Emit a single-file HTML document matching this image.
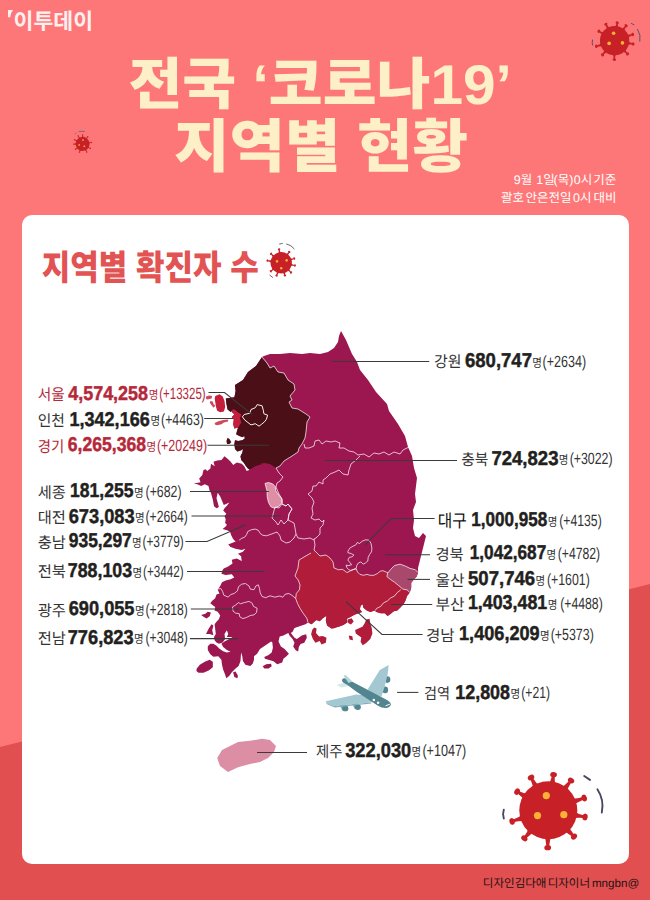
<!DOCTYPE html>
<html lang="ko">
<head>
<meta charset="utf-8">
<title>전국 코로나19 지역별 현황</title>
<style>
html,body{margin:0;padding:0}
body{width:650px;height:900px;overflow:hidden;position:relative;background:#fe7778;font-family:"Liberation Sans","Noto Sans CJK KR",sans-serif}
.bg-dark{position:absolute;left:0;top:0;width:650px;height:900px;background:#e24f50;clip-path:polygon(0 747px,650px 584px,650px 900px,0 900px)}
.card{position:absolute;left:22px;top:215px;width:607px;height:649px;background:#fff;border-radius:10px}
svg{position:absolute;left:0;top:0}
svg text{font-family:"Liberation Sans","Noto Sans CJK KR",sans-serif;letter-spacing:0;text-rendering:geometricPrecision;white-space:pre}
</style>
</head>
<body>
<div class="bg-dark"></div>
<div class="card"></div>
<svg width="650" height="900" viewBox="0 0 650 900">
<g id="title">
<text x="128.4" y="103.5" textLength="383.5" lengthAdjust="spacingAndGlyphs" font-size="56" font-weight="900" fill="#fdefc6">전국 ‘코로나19’</text>
<text x="174" y="167" textLength="294" lengthAdjust="spacingAndGlyphs" font-size="58" font-weight="900" fill="#fdefc6">지역별 현황</text>
</g>
<g id="logo">
<path fill="#fff0f0" d="M8 10H13.1Q10.6 12.6 10.2 17.2H8Z"/>
<text x="13.5" y="28.5" textLength="79.6" lengthAdjust="spacingAndGlyphs" font-size="22" font-weight="bold" fill="#fff0f0">이투데이</text>
</g>
<g id="date">
<text y="184.3" font-size="12.5" fill="#ffffff"><tspan x="513.7">9월</tspan><tspan x="536.2">1일</tspan><tspan x="553.5">(목)</tspan><tspan x="573.8">0시</tspan><tspan x="593.2">기준</tspan></text>
<text y="202.3" font-size="12.5" fill="#ffffff"><tspan x="501">괄호</tspan><tspan x="525.5">안은</tspan><tspan x="548.4">전일</tspan><tspan x="573">0시</tspan><tspan x="593.4">대비</tspan></text>
</g>
<text x="41.8" y="280" textLength="217" lengthAdjust="spacingAndGlyphs" font-size="35" font-weight="900" fill="#e25353">지역별 확진자 수</text>
<g id="credit">
<text y="887.2" font-size="11.5" fill="#1e1212"><tspan x="482.8">디자인</tspan><tspan x="514.7">김다애</tspan><tspan x="547.7">디자이너</tspan></text>
<text x="591.93" y="887.20" textLength="47.27" lengthAdjust="spacingAndGlyphs" font-size="11.5" font-weight="normal" fill="#1e1212">mngbn@</text>
</g>
<g id="map" stroke-linejoin="round">
<path fill="#9c1650" d="M262 357 L264 356 L270 354 L280 354 L290 353 L302 354 L310 353 L320 354 L328 352 L334 348 L338 342 L339 336 L341 331 L346 340 L352 354 L357 362 L360 370 L368 380 L376 392 L387 404 L389 411 L398 424 L405 436 L408 447 L412 456 L414 468 L417 478 L416 486 L415 494 L416 502 L413 510 L414 520 L413 528 L415 536 L419 538 L423 533 L426 536 L424 544 L422 552 L420 560 L418 568 L418.1 572.5 L416.7 576.6 L413.9 579.4 L411.2 582.8 L411.2 587.7 L409.8 592.5 L407 596 L405.6 600.2 L403.5 604.3 L400.1 607.8 L397.3 610.5 L393.8 611.2 L390.4 614 L387.6 616.1 L384.8 613.3 L380.7 613.3 L376.5 611.9 L374.5 610.5 L370.3 611.9 L366.8 610.5 L363.4 607.8 L362.7 604.3 L360.6 605.7 L359.9 609.2 L362 611.9 L358.5 613.3 L354.4 614.7 L350.9 616.8 L346.8 618.8 L347.5 622.3 L343.3 625.1 L339.2 626.5 L335 627.8 L335.1 628 L331.4 628.6 L327.1 625.5 L325.8 620.6 L326.5 615.7 L322.8 618.2 L319.7 621.2 L316.6 620 L314.2 621.8 L311.7 624.3 L308 622.5 L305.5 624.3 L301.8 625.5 L298.2 626.8 L294.5 628 L292.6 631.7 L290.8 632.9 L294.5 637.8 L296.9 639.1 L301.8 635.4 L306.2 634.2 L306.8 637.8 L304.3 642.8 L300.6 644 L298.8 647.1 L298.2 651.4 L295.7 650.2 L293.2 646.5 L294.5 642.8 L292.6 639.1 L289.5 635.4 L288.3 632.9 L283.4 635.4 L279.7 636.6 L278.5 641.5 L280.9 646.5 L284.6 648.9 L288.9 653.8 L286.5 656.3 L283.4 658.8 L282.2 662.5 L277.2 664.3 L273.5 661.2 L269.2 660 L264.9 658.8 L264.3 656.9 L268.6 655.1 L271.7 652.6 L272.9 647.7 L272.3 642.2 L271.1 641.5 L267.4 644 L263.7 646.5 L260 648.9 L257.1 653.7 L254 656.2 L254 659.8 L252.8 663.5 L250.3 666 L245.4 664.8 L242.9 661.1 L242.3 656.2 L241.1 652.5 L240.5 661.1 L238.6 666 L235.5 668.5 L231.8 672.2 L229.4 675.8 L226.3 678.3 L225.1 674.6 L223.2 669.7 L222 664.8 L221.4 659.8 L218.3 656.2 L213.4 656.8 L210.3 654.3 L207.8 650 L207.8 646.3 L210.3 643.8 L213.4 643.8 L216.5 645.7 L219.5 648.8 L223.2 651.2 L226.9 652.5 L230.6 651.8 L226.9 650 L223.2 646.9 L221.4 643.8 L224.5 641.4 L229.4 638.9 L232.5 637.1 L226.9 637.1 L228.2 634 L226.9 630.3 L224.5 634 L225.1 638.9 L222.6 642.6 L218.9 643.8 L216.5 642.6 L214.6 640.2 L214 637.1 L215.8 634 L215.2 629.1 L214.6 624.2 L216.5 621.7 L218.9 619.2 L220.2 615.5 L217.7 611.8 L214.6 610.6 L215.2 606.9 L213.4 605.7 L210.3 603.2 L212.2 600.8 L215.2 598.3 L216.5 594.6 L219.5 593.4 L217.7 589.7 L220.2 586 L222 582.3 L225.7 580.5 L230.6 579.2 L234.3 577.4 L231.8 574.3 L225.7 574.9 L221.4 573.7 L222.6 570 L223.8 568.5 L228.2 566.6 L232.5 563.5 L231.8 559.8 L236.8 558.6 L241.7 561.1 L241.1 556.2 L238 553.7 L242.9 551.8 L245.4 548.8 L241.7 550 L235.5 548.8 L230.6 546.9 L228.2 544.5 L233.1 542.6 L239.2 540.2 L235.5 541.4 L233.1 538.9 L231.2 535.2 L230 531.5 L226.9 530.3 L222.6 529.1 L225.7 526.6 L226.9 524.8 L225.1 522.9 L225.7 519.2 L224.5 516.2 L226.3 513.7 L223.2 510.6 L224.5 508.2 L226.9 505.7 L229.4 502.6 L223.8 505.1 L222 500.8 L220.2 496.5 L217.7 492.8 L216.5 498.3 L218.9 506.9 L216.5 508.2 L214 506.3 L212.8 499.5 L210.9 492.8 L209.7 490.9 L208.5 486 L204.8 484.2 L201.1 486 L197.4 484.2 L193.7 483.5 L200.5 482.3 L199.2 478.6 L202.3 474.9 L203.5 470 L205.5 469.2 L207.3 471.1 L210.4 468.6 L211 463.7 L214.7 466.2 L213.5 461.8 L217.2 460.6 L221.5 460 L224.5 456.3 L227.6 458.8 L230.7 461.8 L233.2 464.9 L236.8 462.5 L241.8 463.7 L244.2 466.2 L246.7 471.1 L249.8 469.8 L247.9 468.6 L246.1 466.2 L243.6 462.5 L241.2 460 L240.5 456.3 L242.4 452.6 L243 448.9 L241.2 450.2 L237.5 451.4 L235 448.9 L234.4 444 L235 440.3 L238.1 440.9 L242.4 440.3 L244.8 438.5 L244.2 435.4 L243 437.2 L239.3 436 L236.2 434.2 L236.8 431.7 L238.1 427.4 L234.4 428.6 L233.2 424.3 L233.8 419.4 L231.9 416.9 L234.4 414.5 L231.9 412 L232.5 409.5 L230.7 412 L227.6 409.5 L226.4 403.4 L225.8 398.5 L234.4 397.2 L235.6 391.1 L235 384.9 L243 380 L248 372 L256 366Z"/>
<path fill="#9c1650" d="M201.1 614.9 L205.4 613.7 L207.8 611.8 L210.9 612.5 L209.7 616.2 L206.6 618.6 L203.5 616.8Z"/>
<path fill="#9c1650" d="M208.5 629.1 L211.5 624.2 L213.4 625.4 L212.2 630.3 L213.4 635.2 L209.7 634 L206 634Z"/>
<path fill="#9c1650" d="M196.8 668.5 L199.8 664.8 L204.8 661.7 L209.7 659.8 L212.8 661.7 L212.8 667.2 L209.1 670.3 L203.5 672.8 L198.6 672.8 L196.4 670.9Z"/>
<path fill="#9c1650" d="M233.1 672.2 L235.5 671.5 L238 675.8 L237.4 678.3 L234.3 677.1Z"/>
<path fill="#9c1650" d="M262.7 666.2 L266.2 664.3 L271.1 663.7 L271.7 666.2 L268.6 668.4 L264.3 668.6Z"/>
<path fill="#b01c39" d="M314 550 L317 553 L320 556 L326 555 L330 558 L333 562 L334 568 L338.7 569.8 L342.4 569.3 L345.2 571.2 L347 572.6 L350.7 570.7 L353.9 569.3 L356.2 568.9 L357.6 572.1 L359.9 574.4 L363.6 575.3 L366.9 574.4 L370.1 575.3 L373.8 575.3 L377.5 573.5 L380.2 571.2 L383 570.7 L386.2 572.1 L388.1 573 L386.9 576.6 L390.4 579.4 L394.5 582.2 L398.7 585.6 L402.8 589.1 L407 589.8 L409.8 592.5 L407 596 L405.6 600.2 L403.5 604.3 L400.1 607.8 L397.3 610.5 L393.8 611.2 L390.4 614 L387.6 616.1 L384.8 613.3 L380.7 613.3 L376.5 611.9 L374.5 610.5 L370.3 611.9 L366.8 610.5 L363.4 607.8 L362.7 604.3 L360.6 605.7 L359.9 609.2 L362 611.9 L358.5 613.3 L354.4 614.7 L350.9 616.8 L346.8 618.8 L347.5 622.3 L343.3 625.1 L339.2 626.5 L335 627.8 L335.1 628 L331.4 628.6 L327.1 625.5 L325.8 620.6 L326.5 615.7 L322.8 618.2 L319.7 621.2 L316.6 620 L314.2 621.8 L311.7 624.3 L308 622.5 L308 622.5 L306.8 618.2 L303.1 613.2 L300 608.3 L297.5 603.4 L295.7 598.5 L296.3 593.5 L299.4 589.8 L300 584.9 L298.2 580 L295 576 L298 568 L299 560 L304 557 L311 553Z"/>
<path fill="#b01c39" d="M314.2 627.4 L316.6 628.6 L316 632.9 L319.1 636.6 L322.8 636 L326.5 637.8 L325.8 642.8 L321.5 644.6 L319.7 640.9 L315.4 642.8 L312.9 639.1 L311.1 634.2 L312.3 629.8Z"/>
<path fill="#b01c39" d="M366.2 619.5 L369.6 618.8 L370.3 623.7 L371.7 627.8 L372.4 633.4 L370.3 638.9 L366.2 643.1 L362.7 645.2 L360.6 641.7 L361.3 637.5 L358.5 635.5 L355.8 633.4 L355.1 629.9 L358.5 628.5 L362.7 626.5 L364.8 623Z"/>
<path fill="#b01c39" d="M347.5 619.5 L351.6 618.2 L353.7 621.6 L350.9 624.4 L348.2 623Z"/>
<path fill="#b01c39" d="M348.8 635.5 L352.3 636.2 L353 640.3 L349.5 639.6Z"/>
<path fill="#a9476c" d="M387.6 573.2 L390.4 569.7 L394.5 565.5 L400.1 564.2 L405.6 566.2 L409.8 568.3 L415.3 569.7 L418.1 572.5 L416.7 576.6 L413.9 579.4 L411.2 582.8 L411.2 587.7 L409.8 592.5 L407 589.8 L402.8 589.1 L398.7 585.6 L394.5 582.2 L390.4 579.4 L386.9 576.6Z"/>
<path fill="#4b0f17" d="M262 357 L267 363 L270 368 L274 366 L278 372 L284 373 L288 380 L294 384 L295 390 L290 396 L292 400 L289 402 L292 408 L298 409 L306 414 L310 417 L307 422 L306 432 L305 438 L302 444 L299 448 L298 452 L292 456 L284 461 L280 466 L276 468 L270 464 L264 463 L258 464.4 L263.9 463.7 L259 464.9 L254.1 466.8 L249.8 469.8 L247.9 468.6 L246.1 466.2 L243.6 462.5 L241.2 460 L240.5 456.3 L242.4 452.6 L243 448.9 L241.2 450.2 L237.5 451.4 L235 448.9 L234.4 444 L235 440.3 L238.1 440.9 L242.4 440.3 L244.8 438.5 L244.2 435.4 L243 437.2 L239.3 436 L236.2 434.2 L236.8 431.7 L238.1 427.4 L241.2 422.5 L239.9 418.2 L241.2 414.5 L237.5 412.2 L234.4 409.5 L230.7 412 L227.6 409.5 L226.4 403.4 L225.8 398.5 L234.4 397.2 L235.6 391.1 L235 384.9 L243 380 L248 372 L256 366Z"/>
<path fill="#4b0f17" d="M227.6 437.8 L229.5 439.1 L231.3 442.2 L229.5 444 L227 444 L226.4 440.9Z"/>
<path fill="#c31e3c" d="M215.3 396 L219.6 394.2 L222.7 396.6 L224.5 400.9 L225.2 407.1 L223.9 411.4 L220.2 412.2 L217.2 410.8 L215.9 406.5 L215.3 402.2 L214.7 398.5Z"/>
<path fill="#c31e3c" d="M234.4 428.6 L233.2 424.3 L233.8 419.4 L231.9 416.9 L234.4 414.5 L231.9 412 L232.5 409.5 L234.4 409.5 L237.5 412.2 L241.2 414.5 L239.9 418.2 L241.2 422.5 L238.1 427.4Z"/>
<path fill="#cf4a5c" d="M206.1 396.6 L209.2 395.4 L212.2 396 L211.6 398.5 L207.3 399.4 L205.8 398.5Z"/>
<path fill="#cf4a5c" d="M210.4 400.9 L212.8 401.5 L213.5 404 L215.3 405.8 L213.5 407.7 L211 404.6 L209.8 402.8Z"/>
<path fill="#cf4a5c" d="M214.7 423.1 L218.4 421.2 L223.3 420 L228.2 419.6 L228 421.6 L223.9 422.5 L221.5 424.3 L217.2 425.3 L214.9 424.6Z"/>
<path fill="#de8fa5" d="M265 483.4 L268.5 482.5 L272.8 484 L275.2 486.5 L275.8 490.8 L278.9 495.1 L281.8 498.8 L282.2 502.5 L278.9 506.2 L274.6 508.2 L270.9 506.8 L268.5 502.5 L267.2 496.9 L267 490.8 L265.8 486.5Z"/>
<path fill="#db8ea4" d="M217.2 758 L222 750 L230 746 L238 742 L250 740.8 L262 738.8 L270 740 L276 746 L274 752 L268 758 L260 762 L250 764 L238 767.2 L228 772 L220 766Z"/>
<g fill="none" stroke="#fff" stroke-width="0.8" stroke-opacity="0.9">
<path d="M262 357 L267 363 L270 368 L274 366 L278 372 L284 373 L288 380 L294 384 L295 390 L290 396 L292 400 L289 402 L292 408 L298 409 L306 414 L310 417 L307 422 L306 432 L305 438 L302 444 L299 448 L298 452 L292 456 L284 461 L280 466 L276 468"/>
<path d="M304 444 L305 448 L309 448 L314 446 L315 441 L319 440 L322 444 L326 441 L331 442 L335 441 L340 443 L339 448 L344 448 L349 451 L354 452 L358 455 L364 454 L369 457 L374 453 L379 454 L384 452 L389 455 L394 452 L400 454 L403 450 L409 447"/>
<path d="M360 456 L356 460 L351 464 L349 470 L348 475 L343 474 L339 470 L335 472 L330 474 L326 478 L323 480 L323 484 L319 482 L316 486 L313 486 L312 491 L308 494 L312 498 L314 502 L312 508 L313 514 L311 518 L315 520 L319 519 L322 522 L324 520 L323 525 L320 528 L320 534 L316 538 L314 539"/>
<path d="M276 468 L279 473 L283 477 L280 481 L277 483 L276 487 L279 494 L282 499 L282 504 L286 506 L288 504 L292 509 L289 514 L288 520 L290 521 L294 523 L295 528 L296 534 L298 538 L304 539 L310 538 L314 540"/>
<path d="M314 539 L315 545 L314 550"/>
<path d="M239.2 540.2 L241.7 538.3 L244.8 537.1 L246.6 534.6 L247.8 531.5 L251.5 529.7 L255.2 529.1 L258.3 530.3 L260.2 533.4 L262.6 535.2 L266.3 535.8 L270 534.6 L277 532 L280 536 L281 540 L286 543 L290 542 L294 538 L296 534"/>
<path d="M218.3 589.1 L220.8 588.5 L222.6 591.5 L223.8 595.2 L228.2 597.1 L230.6 594.6 L234.3 593.4 L237.4 590.9 L238.6 586.6 L241.7 584.2 L245.4 583.5 L249.1 586 L250.3 589.1 L254 589.7 L255.8 586 L258.3 584.8 L259.5 588.5 L260.2 592.8 L262 596.5 L265.7 597.7 L270 595.8 L274.8 597.2 L279.7 596 L282.8 597.2 L285.2 594.2 L288.9 593.5 L292 595.4 L295.7 598.5"/>
<path d="M311 553 L304 557 L299 560 L298 568 L295 576 L298.2 580 L300 584.9 L299.4 589.8 L296.3 593.5 L295.7 598.5 L297.5 603.4 L300 608.3 L303.1 613.2 L306.8 618.2 L308 622.5"/>
<path d="M314 550 L317 553 L320 556 L326 555 L330 558 L333 562 L334 568 L338.7 569.8 L342.4 569.3 L345.2 571.2 L347 572.6 L350.7 570.7 L353.9 569.3 L356.2 568.9 L357.6 572.1 L359.9 574.4 L363.6 575.3 L366.9 574.4 L370.1 575.3 L373.8 575.3 L377.5 573.5 L380.2 571.2 L383 570.7 L386.2 572.1 L388.1 573"/>
<path d="M400.8 589.8 L397.3 592.5 L394.5 596 L390.4 598.1 L387.6 600.8 L383.5 602.9 L380.7 606.4 L376.5 608.5 L375.2 610.5"/>
<path d="M265 483.4 L268.5 482.5 L272.8 484 L275.2 486.5 L275.8 490.8 L278.9 495.1 L281.8 498.8 L282.2 502.5 L278.9 506.2 L274.6 508.2 L270.9 506.8 L268.5 502.5 L267.2 496.9 L267 490.8 L265.8 486.5Z"/>
<path d="M275 507 L272 518 L276 522 L278 525 L281 520 L284 524 L288 520 L289 514 L292 509 L288 504 L286 506 L282 504 L279 508Z"/>
<path d="M365.5 539.8 L369.2 540.2 L371 543.5 L371.9 548.1 L371.5 551.8 L369.6 554.5 L368.2 557.3 L367.8 561 L365.5 562.9 L363.2 564.2 L360.9 561.9 L358.5 562.9 L356.7 565.6 L356.2 568.4 L353.9 569.3 L350.7 570.4 L348.9 569.8 L347 567.9 L346.1 565.2 L348.9 565.6 L351.6 564.7 L350.2 562.9 L347.9 560.1 L349.3 557.3 L352.1 556.9 L353.9 555 L351.2 553.6 L347.9 552.7 L347.9 551.3 L349.8 548.1 L353 546.2 L355.8 544.9 L357.2 542.5 L359.5 543.5 L362.2 541.2Z"/>
<path d="M232.5 606.9 L235.5 605.1 L238.6 602.6 L240.5 603.8 L244.2 602.6 L249.1 601.4 L252.2 603.2 L253.4 606.3 L257.1 608.2 L256.5 612.5 L254 614.9 L250.3 615.5 L246.6 617.4 L242.9 618.6 L239.8 616.8 L239.2 613.7 L235.5 613.1 L233.1 611.2Z"/>
<path d="M386.9 576.6 L387.6 573.2 L390.4 569.7 L394.5 565.5 L400.1 564.2 L405.6 566.2 L409.8 568.3 L415.3 569.7 L418.1 572.5"/>
<path d="M386.9 576.6 L390.4 579.4 L394.5 582.2 L398.7 585.6 L402.8 589.1 L407 589.8 L409.8 592.5"/>
<path stroke-width="0.95" stroke-opacity="1" d="M242.4 416.9 L244.2 414.5 L249.8 413.2 L251 409.5 L255.3 407.7 L257.2 404.6 L262.1 405.8 L263.3 410.2 L263.9 413.8 L267.6 415.1 L266.4 419.4 L264.5 421.8 L261.5 424.3 L259 426.2 L255.3 423.7 L251 424.9 L247.9 422.5 L244.8 420Z"/>
</g></g>
<g id="leaders" fill="none" stroke="#3a3a3a" stroke-width="1.05">
<path d="M208.5 392.5 L224.5 392.5 L252 414.3"/>
<path d="M204.2 418.5 L233.2 418.5"/>
<path d="M207.5 445.3 L268.8 445.3"/>
<path d="M190 491.5 L268.8 491.5"/>
<path d="M191.5 516 L281 516"/>
<path d="M185.4 541.5 L207 541.5 L246 524.8"/>
<path d="M187 571.5 L264.5 571.5"/>
<path d="M190.8 609 L238.6 609"/>
<path d="M190 638.6 L237.4 638.6"/>
<path d="M332 361.4 L429.2 361.4"/>
<path d="M325 460.4 L457 460.4"/>
<path d="M365 545 L391 518.5 L434.6 518.5"/>
<path d="M385 554.8 L430 554.8"/>
<path d="M407.5 579.4 L430 579.4"/>
<path d="M391 604.4 L432.2 604.4"/>
<path d="M346 601.7 L382 634.4 L422.6 634.4"/>
<path d="M397.1 692.4 L418.4 692.4"/>
<path d="M257 752.4 L307 752.4"/>
</g>
<g id="labels" font-family="'Liberation Sans', 'Noto Sans CJK KR', sans-serif">
<g>
<text x="37.7" y="400" textLength="27.1" lengthAdjust="spacingAndGlyphs" font-size="15.5" fill="#b5283a">서울</text>
<text x="68.23" y="399.50" textLength="79.82" lengthAdjust="spacingAndGlyphs" font-size="20" font-weight="bold" fill="#b5283a" stroke="#b5283a" stroke-width="0.45">4,574,258</text>
<text x="148.8" y="399.1" textLength="9.6" lengthAdjust="spacingAndGlyphs" font-size="12" fill="#b5283a">명</text>
<text x="159.29" y="399.10" textLength="46.33" lengthAdjust="spacingAndGlyphs" font-size="16.3" font-weight="normal" fill="#b5283a">(+13325)</text>
</g>
<g>
<text x="37.7" y="426" textLength="27.1" lengthAdjust="spacingAndGlyphs" font-size="15.5" fill="#333333">인천</text>
<text x="69.46" y="425.60" textLength="80.29" lengthAdjust="spacingAndGlyphs" font-size="20" font-weight="bold" fill="#231f20" stroke="#231f20" stroke-width="0.45">1,342,166</text>
<text x="150.4" y="425.2" textLength="9.6" lengthAdjust="spacingAndGlyphs" font-size="12" fill="#333333">명</text>
<text x="161.04" y="425.20" textLength="42.83" lengthAdjust="spacingAndGlyphs" font-size="16.3" font-weight="normal" fill="#333333">(+4463)</text>
</g>
<g>
<text x="37.7" y="452" textLength="26.5" lengthAdjust="spacingAndGlyphs" font-size="15.5" fill="#b5283a">경기</text>
<text x="67.86" y="451.40" textLength="78.08" lengthAdjust="spacingAndGlyphs" font-size="20" font-weight="bold" fill="#b5283a" stroke="#b5283a" stroke-width="0.45">6,265,368</text>
<text x="146.5" y="451" textLength="9.6" lengthAdjust="spacingAndGlyphs" font-size="12" fill="#b5283a">명</text>
<text x="156.93" y="451.00" textLength="50.14" lengthAdjust="spacingAndGlyphs" font-size="16.3" font-weight="normal" fill="#b5283a">(+20249)</text>
</g>
<g>
<text x="37.7" y="498" textLength="28.1" lengthAdjust="spacingAndGlyphs" font-size="15.5" fill="#333333">세종</text>
<text x="70.10" y="497.40" textLength="63.39" lengthAdjust="spacingAndGlyphs" font-size="20" font-weight="bold" fill="#231f20" stroke="#231f20" stroke-width="0.45">181,255</text>
<text x="134" y="497" textLength="9.6" lengthAdjust="spacingAndGlyphs" font-size="12" fill="#333333">명</text>
<text x="145.53" y="497.00" textLength="36.03" lengthAdjust="spacingAndGlyphs" font-size="16.3" font-weight="normal" fill="#333333">(+682)</text>
</g>
<g>
<text x="37.7" y="523.2" textLength="28.1" lengthAdjust="spacingAndGlyphs" font-size="15.5" fill="#333333">대전</text>
<text x="68.73" y="522.70" textLength="65.93" lengthAdjust="spacingAndGlyphs" font-size="20" font-weight="bold" fill="#231f20" stroke="#231f20" stroke-width="0.45">673,083</text>
<text x="135" y="522.3" textLength="9.6" lengthAdjust="spacingAndGlyphs" font-size="12" fill="#333333">명</text>
<text x="145.55" y="522.30" textLength="42.21" lengthAdjust="spacingAndGlyphs" font-size="16.3" font-weight="normal" fill="#333333">(+2664)</text>
</g>
<g>
<text x="37.7" y="547.8" textLength="28.1" lengthAdjust="spacingAndGlyphs" font-size="15.5" fill="#333333">충남</text>
<text x="68.80" y="547.30" textLength="62.97" lengthAdjust="spacingAndGlyphs" font-size="20" font-weight="bold" fill="#231f20" stroke="#231f20" stroke-width="0.45">935,297</text>
<text x="132" y="546.9" textLength="9.6" lengthAdjust="spacingAndGlyphs" font-size="12" fill="#333333">명</text>
<text x="142.46" y="546.90" textLength="41.27" lengthAdjust="spacingAndGlyphs" font-size="16.3" font-weight="normal" fill="#333333">(+3779)</text>
</g>
<g>
<text x="37.7" y="577.4" textLength="28.2" lengthAdjust="spacingAndGlyphs" font-size="15.5" fill="#333333">전북</text>
<text x="67.73" y="576.90" textLength="64.41" lengthAdjust="spacingAndGlyphs" font-size="20" font-weight="bold" fill="#231f20" stroke="#231f20" stroke-width="0.45">788,103</text>
<text x="132.5" y="576.5" textLength="9.6" lengthAdjust="spacingAndGlyphs" font-size="12" fill="#333333">명</text>
<text x="143.07" y="576.50" textLength="40.65" lengthAdjust="spacingAndGlyphs" font-size="16.3" font-weight="normal" fill="#333333">(+3442)</text>
</g>
<g>
<text x="37.7" y="615.8" textLength="28.2" lengthAdjust="spacingAndGlyphs" font-size="15.5" fill="#333333">광주</text>
<text x="68.73" y="615.30" textLength="65.77" lengthAdjust="spacingAndGlyphs" font-size="20" font-weight="bold" fill="#231f20" stroke="#231f20" stroke-width="0.45">690,055</text>
<text x="135" y="614.9" textLength="9.6" lengthAdjust="spacingAndGlyphs" font-size="12" fill="#333333">명</text>
<text x="145.55" y="614.90" textLength="42.21" lengthAdjust="spacingAndGlyphs" font-size="16.3" font-weight="normal" fill="#333333">(+2818)</text>
</g>
<g>
<text x="37.7" y="644.1" textLength="28.1" lengthAdjust="spacingAndGlyphs" font-size="15.5" fill="#333333">전남</text>
<text x="67.72" y="643.60" textLength="65.94" lengthAdjust="spacingAndGlyphs" font-size="20" font-weight="bold" fill="#231f20" stroke="#231f20" stroke-width="0.45">776,823</text>
<text x="134" y="643.2" textLength="9.6" lengthAdjust="spacingAndGlyphs" font-size="12" fill="#333333">명</text>
<text x="145.55" y="643.20" textLength="42.21" lengthAdjust="spacingAndGlyphs" font-size="16.3" font-weight="normal" fill="#333333">(+3048)</text>
</g>
<g>
<text x="434" y="367.4" textLength="27.5" lengthAdjust="spacingAndGlyphs" font-size="15.5" fill="#333333">강원</text>
<text x="464.92" y="366.90" textLength="67.10" lengthAdjust="spacingAndGlyphs" font-size="20" font-weight="bold" fill="#231f20" stroke="#231f20" stroke-width="0.45">680,747</text>
<text x="532.2" y="366.5" textLength="9.6" lengthAdjust="spacingAndGlyphs" font-size="12" fill="#333333">명</text>
<text x="542.62" y="366.50" textLength="43.55" lengthAdjust="spacingAndGlyphs" font-size="16.3" font-weight="normal" fill="#333333">(+2634)</text>
</g>
<g>
<text x="461.2" y="465.1" textLength="27.2" lengthAdjust="spacingAndGlyphs" font-size="15.5" fill="#333333">충북</text>
<text x="491.40" y="464.60" textLength="67.07" lengthAdjust="spacingAndGlyphs" font-size="20" font-weight="bold" fill="#231f20" stroke="#231f20" stroke-width="0.45">724,823</text>
<text x="558.8" y="464.2" textLength="9.6" lengthAdjust="spacingAndGlyphs" font-size="12" fill="#333333">명</text>
<text x="569.63" y="464.20" textLength="42.93" lengthAdjust="spacingAndGlyphs" font-size="16.3" font-weight="normal" fill="#333333">(+3022)</text>
</g>
<g>
<text x="437.8" y="526.6" textLength="29" lengthAdjust="spacingAndGlyphs" font-size="17.5" fill="#111111">대구</text>
<text x="471.22" y="525.90" textLength="76.10" lengthAdjust="spacingAndGlyphs" font-size="20" font-weight="bold" fill="#231f20" stroke="#231f20" stroke-width="0.45">1,000,958</text>
<text x="547.7" y="525.5" textLength="9.6" lengthAdjust="spacingAndGlyphs" font-size="12" fill="#333333">명</text>
<text x="559.24" y="525.50" textLength="42.52" lengthAdjust="spacingAndGlyphs" font-size="16.3" font-weight="normal" fill="#333333">(+4135)</text>
</g>
<g>
<text x="435.4" y="559.8" textLength="28.3" lengthAdjust="spacingAndGlyphs" font-size="15.5" fill="#333333">경북</text>
<text x="469.72" y="559.30" textLength="76.54" lengthAdjust="spacingAndGlyphs" font-size="20" font-weight="bold" fill="#231f20" stroke="#231f20" stroke-width="0.45">1,042,687</text>
<text x="546.5" y="558.9" textLength="9.6" lengthAdjust="spacingAndGlyphs" font-size="12" fill="#333333">명</text>
<text x="557.74" y="558.90" textLength="42.41" lengthAdjust="spacingAndGlyphs" font-size="16.3" font-weight="normal" fill="#333333">(+4782)</text>
</g>
<g>
<text x="435.4" y="585.9" textLength="29.2" lengthAdjust="spacingAndGlyphs" font-size="15.5" fill="#333333">울산</text>
<text x="468.03" y="585.40" textLength="67.14" lengthAdjust="spacingAndGlyphs" font-size="20" font-weight="bold" fill="#231f20" stroke="#231f20" stroke-width="0.45">507,746</text>
<text x="535.5" y="585" textLength="9.6" lengthAdjust="spacingAndGlyphs" font-size="12" fill="#333333">명</text>
<text x="546.94" y="585.00" textLength="42.83" lengthAdjust="spacingAndGlyphs" font-size="16.3" font-weight="normal" fill="#333333">(+1601)</text>
</g>
<g>
<text x="435.4" y="609.6" textLength="29.2" lengthAdjust="spacingAndGlyphs" font-size="15.5" fill="#333333">부산</text>
<text x="467.88" y="609.10" textLength="79.42" lengthAdjust="spacingAndGlyphs" font-size="20" font-weight="bold" fill="#231f20" stroke="#231f20" stroke-width="0.45">1,403,481</text>
<text x="547.7" y="608.7" textLength="9.6" lengthAdjust="spacingAndGlyphs" font-size="12" fill="#333333">명</text>
<text x="560.24" y="608.70" textLength="42.52" lengthAdjust="spacingAndGlyphs" font-size="16.3" font-weight="normal" fill="#333333">(+4488)</text>
</g>
<g>
<text x="426" y="640.9" textLength="28.7" lengthAdjust="spacingAndGlyphs" font-size="15.5" fill="#333333">경남</text>
<text x="459.06" y="640.40" textLength="80.61" lengthAdjust="spacingAndGlyphs" font-size="20" font-weight="bold" fill="#231f20" stroke="#231f20" stroke-width="0.45">1,406,209</text>
<text x="540" y="640" textLength="9.6" lengthAdjust="spacingAndGlyphs" font-size="12" fill="#333333">명</text>
<text x="550.73" y="640.00" textLength="43.04" lengthAdjust="spacingAndGlyphs" font-size="16.3" font-weight="normal" fill="#333333">(+5373)</text>
</g>
<g>
<text x="423.9" y="699.2" textLength="26.1" lengthAdjust="spacingAndGlyphs" font-size="15.5" fill="#333333">검역</text>
<text x="455.27" y="698.70" textLength="54.78" lengthAdjust="spacingAndGlyphs" font-size="20" font-weight="bold" fill="#231f20" stroke="#231f20" stroke-width="0.45">12,808</text>
<text x="510.4" y="698.3" textLength="9.6" lengthAdjust="spacingAndGlyphs" font-size="12" fill="#333333">명</text>
<text x="521.25" y="698.30" textLength="28.71" lengthAdjust="spacingAndGlyphs" font-size="16.3" font-weight="normal" fill="#333333">(+21)</text>
</g>
<g>
<text x="316" y="757.1" textLength="26.4" lengthAdjust="spacingAndGlyphs" font-size="15.5" fill="#333333">제주</text>
<text x="345.18" y="756.60" textLength="66.07" lengthAdjust="spacingAndGlyphs" font-size="20" font-weight="bold" fill="#231f20" stroke="#231f20" stroke-width="0.45">322,030</text>
<text x="411.4" y="756.2" textLength="9.6" lengthAdjust="spacingAndGlyphs" font-size="12" fill="#333333">명</text>
<text x="422.42" y="756.20" textLength="43.87" lengthAdjust="spacingAndGlyphs" font-size="16.3" font-weight="normal" fill="#333333">(+1047)</text>
</g>
</g>
<g id="viruses">
<g transform="translate(548.3 810.3) rotate(0) scale(1.0000 1.0000)"><g transform="rotate(-81.6)"><path fill="#c72127" d="M24 -4.2 Q30 -1.6 35 -1.3 L35 1.3 Q30 1.6 24 4.2Z"/><ellipse cx="36" cy="0" rx="2.6" ry="3.4" fill="#c72127"/></g><g transform="rotate(-52.6)"><path fill="#c72127" d="M24 -4.2 Q30 -1.6 36.5 -1.3 L36.5 1.3 Q30 1.6 24 4.2Z"/><ellipse cx="37.5" cy="0" rx="2.6" ry="3.4" fill="#c72127"/></g><g transform="rotate(-18.9)"><path fill="#c72127" d="M24 -4.2 Q30 -1.6 37 -1.3 L37 1.3 Q30 1.6 24 4.2Z"/><ellipse cx="38" cy="0" rx="2.6" ry="3.4" fill="#c72127"/></g><g transform="rotate(10.3)"><path fill="#c72127" d="M24 -4.2 Q30 -1.6 36.4 -1.3 L36.4 1.3 Q30 1.6 24 4.2Z"/><ellipse cx="37.4" cy="0" rx="2.6" ry="3.4" fill="#c72127"/></g><g transform="rotate(45.6)"><path fill="#c72127" d="M24 -4.2 Q30 -1.6 35.8 -1.3 L35.8 1.3 Q30 1.6 24 4.2Z"/><ellipse cx="36.8" cy="0" rx="2.6" ry="3.4" fill="#c72127"/></g><g transform="rotate(90.9)"><path fill="#c72127" d="M24 -4.2 Q30 -1.6 36.4 -1.3 L36.4 1.3 Q30 1.6 24 4.2Z"/><ellipse cx="37.4" cy="0" rx="2.6" ry="3.4" fill="#c72127"/></g><g transform="rotate(130.5)"><path fill="#c72127" d="M24 -4.2 Q30 -1.6 35.9 -1.3 L35.9 1.3 Q30 1.6 24 4.2Z"/><ellipse cx="36.9" cy="0" rx="2.6" ry="3.4" fill="#c72127"/></g><g transform="rotate(163)"><path fill="#c72127" d="M24 -4.2 Q30 -1.6 36.9 -1.3 L36.9 1.3 Q30 1.6 24 4.2Z"/><ellipse cx="37.9" cy="0" rx="2.6" ry="3.4" fill="#c72127"/></g><g transform="rotate(-149)"><path fill="#c72127" d="M24 -4.2 Q30 -1.6 35.4 -1.3 L35.4 1.3 Q30 1.6 24 4.2Z"/><ellipse cx="36.4" cy="0" rx="2.6" ry="3.4" fill="#c72127"/></g><g transform="rotate(-117.8)"><path fill="#c72127" d="M24 -4.2 Q30 -1.6 36 -1.3 L36 1.3 Q30 1.6 24 4.2Z"/><ellipse cx="37" cy="0" rx="2.6" ry="3.4" fill="#c72127"/></g><circle r="29" fill="#c72127"/><circle cx="-2.0" cy="-14.7" r="3.6" fill="#f9b233"/><circle cx="-10.8" cy="5.3" r="3.6" fill="#f9b233"/><circle cx="15.5" cy="4.4" r="3.6" fill="#f9b233"/></g><g fill="none" stroke="#4a4560" stroke-width="1.9" stroke-linecap="round"><path d="M597.4 789.2 Q604.5 800 601.8 812.6"/><path d="M584.2 776 L590 779.9"/><path d="M503.8 809.7 Q502.3 814 503.8 818.5"/></g>
<g transform="translate(614.6 40.7) rotate(0) scale(0.5054 0.5054)"><g transform="rotate(-81.6)"><path fill="#c72127" d="M24 -4.2 Q30 -1.6 35 -1.3 L35 1.3 Q30 1.6 24 4.2Z"/><ellipse cx="36" cy="0" rx="2.6" ry="3.4" fill="#c72127"/></g><g transform="rotate(-52.6)"><path fill="#c72127" d="M24 -4.2 Q30 -1.6 36.5 -1.3 L36.5 1.3 Q30 1.6 24 4.2Z"/><ellipse cx="37.5" cy="0" rx="2.6" ry="3.4" fill="#c72127"/></g><g transform="rotate(-18.9)"><path fill="#c72127" d="M24 -4.2 Q30 -1.6 37 -1.3 L37 1.3 Q30 1.6 24 4.2Z"/><ellipse cx="38" cy="0" rx="2.6" ry="3.4" fill="#c72127"/></g><g transform="rotate(10.3)"><path fill="#c72127" d="M24 -4.2 Q30 -1.6 36.4 -1.3 L36.4 1.3 Q30 1.6 24 4.2Z"/><ellipse cx="37.4" cy="0" rx="2.6" ry="3.4" fill="#c72127"/></g><g transform="rotate(45.6)"><path fill="#c72127" d="M24 -4.2 Q30 -1.6 35.8 -1.3 L35.8 1.3 Q30 1.6 24 4.2Z"/><ellipse cx="36.8" cy="0" rx="2.6" ry="3.4" fill="#c72127"/></g><g transform="rotate(90.9)"><path fill="#c72127" d="M24 -4.2 Q30 -1.6 36.4 -1.3 L36.4 1.3 Q30 1.6 24 4.2Z"/><ellipse cx="37.4" cy="0" rx="2.6" ry="3.4" fill="#c72127"/></g><g transform="rotate(130.5)"><path fill="#c72127" d="M24 -4.2 Q30 -1.6 35.9 -1.3 L35.9 1.3 Q30 1.6 24 4.2Z"/><ellipse cx="36.9" cy="0" rx="2.6" ry="3.4" fill="#c72127"/></g><g transform="rotate(163)"><path fill="#c72127" d="M24 -4.2 Q30 -1.6 36.9 -1.3 L36.9 1.3 Q30 1.6 24 4.2Z"/><ellipse cx="37.9" cy="0" rx="2.6" ry="3.4" fill="#c72127"/></g><g transform="rotate(-149)"><path fill="#c72127" d="M24 -4.2 Q30 -1.6 35.4 -1.3 L35.4 1.3 Q30 1.6 24 4.2Z"/><ellipse cx="36.4" cy="0" rx="2.6" ry="3.4" fill="#c72127"/></g><g transform="rotate(-117.8)"><path fill="#c72127" d="M24 -4.2 Q30 -1.6 36 -1.3 L36 1.3 Q30 1.6 24 4.2Z"/><ellipse cx="37" cy="0" rx="2.6" ry="3.4" fill="#c72127"/></g><circle r="29" fill="#c72127"/><circle cx="-2.0" cy="-14.7" r="3.6" fill="#f9b233"/><circle cx="-10.8" cy="5.3" r="3.6" fill="#f9b233"/><circle cx="15.5" cy="4.4" r="3.6" fill="#f9b233"/></g><g fill="none" stroke="#3f4e6e" stroke-width="0.9" stroke-linecap="round"><path d="M631.5 23.5 L634 24.8"/><path d="M637.6 29.4 Q641.2 35 639.9 41.3"/><path d="M592.5 40 Q591.8 42.5 592.5 45"/></g>
<g transform="translate(82.6 143.9) rotate(-100) scale(0.2419 0.2419)"><g transform="rotate(-81.6)"><path fill="#c72127" d="M24 -4.2 Q30 -1.6 35 -1.3 L35 1.3 Q30 1.6 24 4.2Z"/><ellipse cx="36" cy="0" rx="2.6" ry="3.4" fill="#c72127"/></g><g transform="rotate(-52.6)"><path fill="#c72127" d="M24 -4.2 Q30 -1.6 36.5 -1.3 L36.5 1.3 Q30 1.6 24 4.2Z"/><ellipse cx="37.5" cy="0" rx="2.6" ry="3.4" fill="#c72127"/></g><g transform="rotate(-18.9)"><path fill="#c72127" d="M24 -4.2 Q30 -1.6 37 -1.3 L37 1.3 Q30 1.6 24 4.2Z"/><ellipse cx="38" cy="0" rx="2.6" ry="3.4" fill="#c72127"/></g><g transform="rotate(10.3)"><path fill="#c72127" d="M24 -4.2 Q30 -1.6 36.4 -1.3 L36.4 1.3 Q30 1.6 24 4.2Z"/><ellipse cx="37.4" cy="0" rx="2.6" ry="3.4" fill="#c72127"/></g><g transform="rotate(45.6)"><path fill="#c72127" d="M24 -4.2 Q30 -1.6 35.8 -1.3 L35.8 1.3 Q30 1.6 24 4.2Z"/><ellipse cx="36.8" cy="0" rx="2.6" ry="3.4" fill="#c72127"/></g><g transform="rotate(90.9)"><path fill="#c72127" d="M24 -4.2 Q30 -1.6 36.4 -1.3 L36.4 1.3 Q30 1.6 24 4.2Z"/><ellipse cx="37.4" cy="0" rx="2.6" ry="3.4" fill="#c72127"/></g><g transform="rotate(130.5)"><path fill="#c72127" d="M24 -4.2 Q30 -1.6 35.9 -1.3 L35.9 1.3 Q30 1.6 24 4.2Z"/><ellipse cx="36.9" cy="0" rx="2.6" ry="3.4" fill="#c72127"/></g><g transform="rotate(163)"><path fill="#c72127" d="M24 -4.2 Q30 -1.6 36.9 -1.3 L36.9 1.3 Q30 1.6 24 4.2Z"/><ellipse cx="37.9" cy="0" rx="2.6" ry="3.4" fill="#c72127"/></g><g transform="rotate(-149)"><path fill="#c72127" d="M24 -4.2 Q30 -1.6 35.4 -1.3 L35.4 1.3 Q30 1.6 24 4.2Z"/><ellipse cx="36.4" cy="0" rx="2.6" ry="3.4" fill="#c72127"/></g><g transform="rotate(-117.8)"><path fill="#c72127" d="M24 -4.2 Q30 -1.6 36 -1.3 L36 1.3 Q30 1.6 24 4.2Z"/><ellipse cx="37" cy="0" rx="2.6" ry="3.4" fill="#c72127"/></g><circle r="29" fill="#c72127"/><circle cx="-2.0" cy="-14.7" r="3.6" fill="#f9b233"/><circle cx="-10.8" cy="5.3" r="3.6" fill="#f9b233"/><circle cx="15.5" cy="4.4" r="3.6" fill="#f9b233"/></g><g fill="none" stroke="#5a6480" stroke-width="0.8" stroke-linecap="round"><path d="M79 131.4 L84.5 131.4"/><path d="M75.3 134 L76 133"/></g>
<g transform="translate(281.2 262.8) rotate(-8) scale(0.3682 -0.3682)"><g transform="rotate(-81.6)"><path fill="#c72127" d="M24 -4.2 Q30 -1.6 35 -1.3 L35 1.3 Q30 1.6 24 4.2Z"/><ellipse cx="36" cy="0" rx="2.6" ry="3.4" fill="#c72127"/></g><g transform="rotate(-52.6)"><path fill="#c72127" d="M24 -4.2 Q30 -1.6 36.5 -1.3 L36.5 1.3 Q30 1.6 24 4.2Z"/><ellipse cx="37.5" cy="0" rx="2.6" ry="3.4" fill="#c72127"/></g><g transform="rotate(-18.9)"><path fill="#c72127" d="M24 -4.2 Q30 -1.6 37 -1.3 L37 1.3 Q30 1.6 24 4.2Z"/><ellipse cx="38" cy="0" rx="2.6" ry="3.4" fill="#c72127"/></g><g transform="rotate(10.3)"><path fill="#c72127" d="M24 -4.2 Q30 -1.6 36.4 -1.3 L36.4 1.3 Q30 1.6 24 4.2Z"/><ellipse cx="37.4" cy="0" rx="2.6" ry="3.4" fill="#c72127"/></g><g transform="rotate(45.6)"><path fill="#c72127" d="M24 -4.2 Q30 -1.6 35.8 -1.3 L35.8 1.3 Q30 1.6 24 4.2Z"/><ellipse cx="36.8" cy="0" rx="2.6" ry="3.4" fill="#c72127"/></g><g transform="rotate(90.9)"><path fill="#c72127" d="M24 -4.2 Q30 -1.6 36.4 -1.3 L36.4 1.3 Q30 1.6 24 4.2Z"/><ellipse cx="37.4" cy="0" rx="2.6" ry="3.4" fill="#c72127"/></g><g transform="rotate(130.5)"><path fill="#c72127" d="M24 -4.2 Q30 -1.6 35.9 -1.3 L35.9 1.3 Q30 1.6 24 4.2Z"/><ellipse cx="36.9" cy="0" rx="2.6" ry="3.4" fill="#c72127"/></g><g transform="rotate(163)"><path fill="#c72127" d="M24 -4.2 Q30 -1.6 36.9 -1.3 L36.9 1.3 Q30 1.6 24 4.2Z"/><ellipse cx="37.9" cy="0" rx="2.6" ry="3.4" fill="#c72127"/></g><g transform="rotate(-149)"><path fill="#c72127" d="M24 -4.2 Q30 -1.6 35.4 -1.3 L35.4 1.3 Q30 1.6 24 4.2Z"/><ellipse cx="36.4" cy="0" rx="2.6" ry="3.4" fill="#c72127"/></g><g transform="rotate(-117.8)"><path fill="#c72127" d="M24 -4.2 Q30 -1.6 36 -1.3 L36 1.3 Q30 1.6 24 4.2Z"/><ellipse cx="37" cy="0" rx="2.6" ry="3.4" fill="#c72127"/></g><circle r="29" fill="#c72127"/><circle cx="-2.0" cy="-14.7" r="3.6" fill="#f9b233"/><circle cx="-10.8" cy="5.3" r="3.6" fill="#f9b233"/><circle cx="15.5" cy="4.4" r="3.6" fill="#f9b233"/></g><g fill="none" stroke="#444455" stroke-width="0.8" stroke-linecap="round"><path d="M286.6 244 Q291.5 245 294.2 248.8"/><path d="M279.6 244 L282.3 243.5"/><path d="M269.9 275.2 L272.6 277.4"/></g>
</g>
<g id="plane">
<path fill="#84afb9" d="M339.2 704.3 L344.1 703.5 L346.8 706.6 L345.9 710.1 L342.3 710.4Z"/>
<ellipse cx="345.3" cy="708.4" rx="3.1" ry="2.9" fill="#528590"/>
<path fill="#84afb9" d="M351.7 702.9 L356.5 702.1 L359.3 705.3 L358.3 708.7 L354.7 709.0Z"/>
<ellipse cx="357.8" cy="707.1" rx="3.1" ry="2.9" fill="#528590"/>
<ellipse cx="387.3" cy="679.6" rx="3" ry="3.3" fill="#528590"/>
<ellipse cx="385.1" cy="689.9" rx="3" ry="3.3" fill="#528590"/>
<path fill="#a3c8d1" d="M367.6 689.6 L379.8 670.0 L388.7 665.0 L387.6 674.4 L384.6 686.6 L381.5 696.8 L374.5 694.5Z"/>
<path fill="#a3c8d1" d="M325.8 701.2 L356.3 694.5 L363.7 695.2 L374.3 701.2 L370.7 702.4 L334.4 706.0 L326.4 702.9Z"/>
<path fill="#84afb9" d="M326.4 702.9 L334.4 706.0 L370.7 702.4 L371.5 703.6 L334.7 707.5 L326.6 704.0Z"/>
<path fill="#d4e7ed" d="M336.6 684.9 L344.6 682.4 L349.6 685.7 L341.6 687.5Z"/>
<path fill="#528590" d="M342.1 679.6 Q343.2 677.7 345.7 678.5 L351.3 681.3 L370.4 691.3 L387.0 699.9 Q390.9 702.1 390.9 704.8 Q389.8 707.9 385.6 708.0 Q381.5 707.9 377.6 705.4 L367.6 699.0 L356.5 691.8 L347.5 684.9 L343.5 682.7 Q341.3 681.6 342.1 679.6Z"/>
<path fill="#b4d4dc" d="M343.5 675.8 L345.7 674.9 L352.4 681.6 L348.5 683.0Z"/>
<circle cx="373.8" cy="700.1" r="1.25" fill="#fff"/>
<circle cx="378.1" cy="702.8" r="1.25" fill="#fff"/>
<path stroke="#fff" stroke-width="1" stroke-linecap="round" fill="none" d="M385.9 705.7 L389.5 704.3"/>
</g>
</svg>
</body>
</html>
